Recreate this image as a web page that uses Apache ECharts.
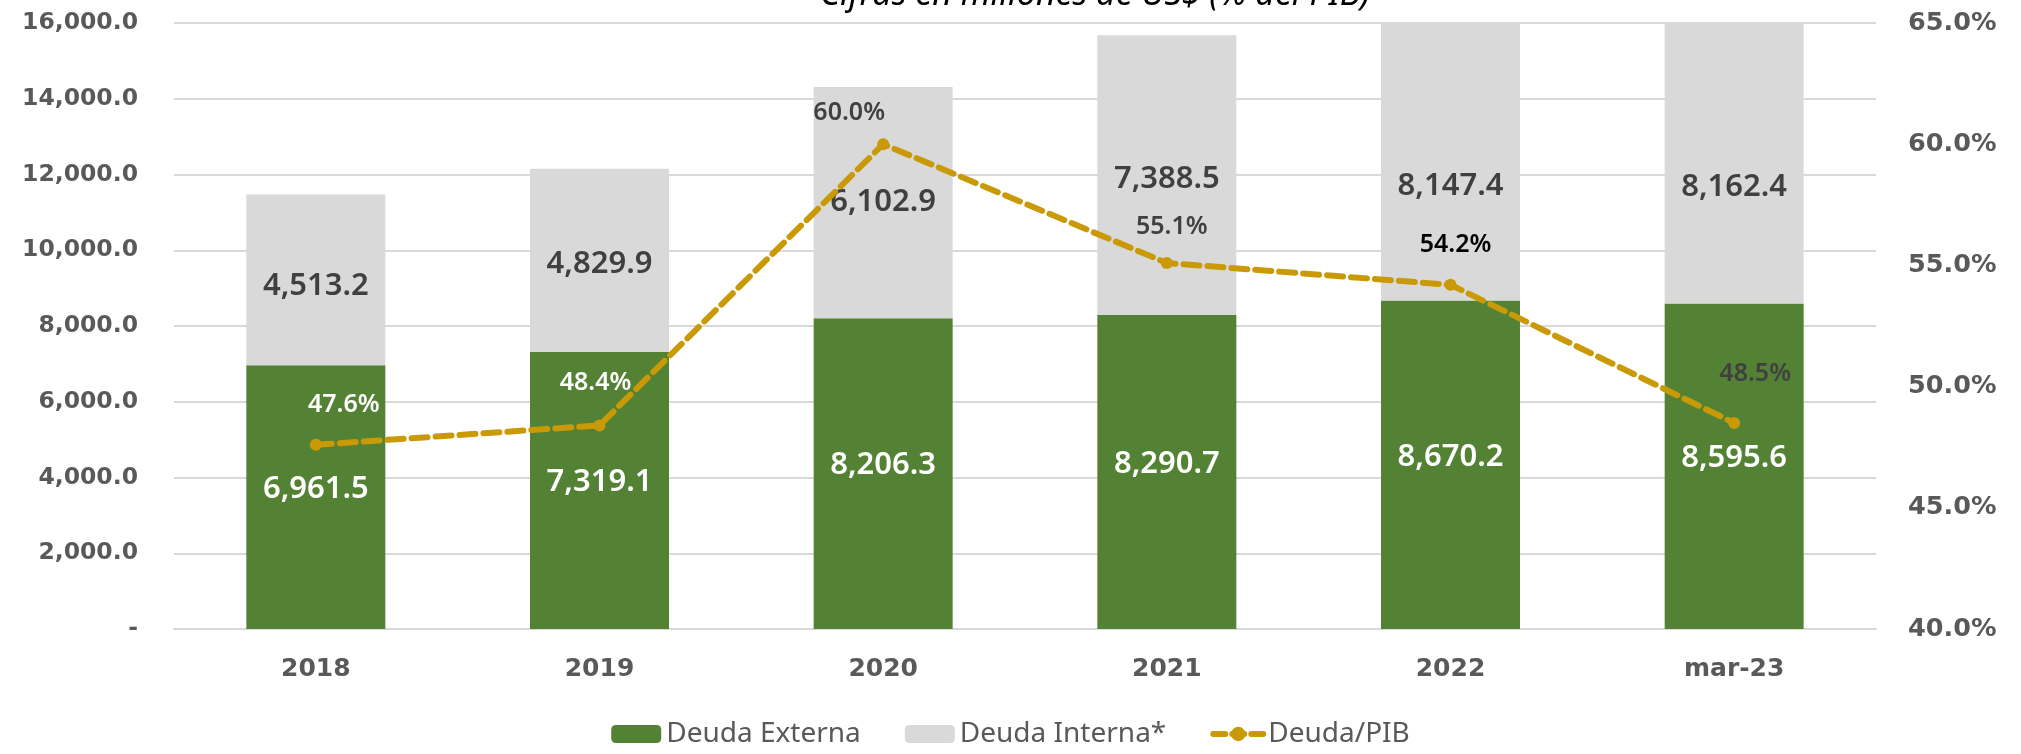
<!DOCTYPE html>
<html>
<head>
<meta charset="utf-8">
<script src="https://cdn.jsdelivr.net/npm/echarts@6/dist/echarts.min.js"></script>
<style>
  html, body { margin: 0; padding: 0; background: #fff; }
  #chart { width: 2021px; height: 754px; }
</style>
</head>
<body>
<div id="chart"></div>
<script>
const categories = ['2018', '2019', '2020', '2021', '2022', 'mar-23']
const deudaExterna = [6961.5, 7319.1, 8206.3, 8290.7, 8670.2, 8595.6]
const deudaInterna = [4513.2, 4829.9, 6102.9, 7388.5, 8147.4, 8162.4]
const deudaPib = [47.6, 48.4, 60.0, 55.1, 54.2, 48.5]
const leftTicks = [0, 2000, 4000, 6000, 8000, 10000, 12000, 14000, 16000]
const rightTicks = [40, 45, 50, 55, 60, 65]

// label tweaks to sit where the original has them
const pibOffsets = [[28, -40], [-4, -43], [-34, -31], [5, -36], [5, -40], [21, -49]]
const pibColors = ['#fff', '#fff', '#404040', '#404040', '#000', '#404040']
const internaOffsets = [[0, 6], [0, 4], [0, 0], [0, 4], [0, 24], [0, 24]]

const fmt = v => v.toLocaleString('en-US', {minimumFractionDigits: 1, maximumFractionDigits: 1})
const axisFont = {fontFamily: 'DejaVu Sans', fontWeight: 'bold', color: '#595959'}

let myChart = echarts.init(document.getElementById('chart'))
myChart.setOption({
  animation: false,
  title: {
    text: 'Cifras en millones de US$ (% del PIB)',
    left: 1090,
    textAlign: 'center',
    top: -27,
    textStyle: {fontFamily: 'Noto Sans', fontStyle: 'italic', fontWeight: 'normal', fontSize: 34, color: '#000'}
  },
  grid: {left: 174, right: 145, top: 23, bottom: 125},
  legend: {
    bottom: 1,
    left: 'center',
    itemWidth: 50,
    itemHeight: 18,
    itemGap: 44,
    textStyle: {fontFamily: 'Noto Sans', fontSize: 28, color: '#595959'},
    data: [
      {name: 'Deuda Externa'},
      {name: 'Deuda Interna*'},
      {name: 'Deuda/PIB', lineStyle: {width: 6, type: [12, 7]}}
    ]
  },
  xAxis: {
    type: 'category',
    data: categories,
    axisTick: {show: false},
    axisLine: {lineStyle: {color: '#D9D9D9', width: 2}},
    axisLabel: Object.assign({margin: 28, fontSize: 25}, axisFont)
  },
  yAxis: [{
    type: 'value',
    min: leftTicks[0],
    max: leftTicks[leftTicks.length - 1],
    interval: leftTicks[1] - leftTicks[0],
    splitLine: {lineStyle: {color: '#D9D9D9', width: 2}},
    axisLabel: Object.assign({margin: 36, fontSize: 23.5, formatter: v => v === 0 ? '-' : fmt(v)}, axisFont)
  }, {
    type: 'value',
    min: rightTicks[0],
    max: rightTicks[rightTicks.length - 1],
    interval: rightTicks[1] - rightTicks[0],
    splitLine: {show: false},
    axisLabel: Object.assign({margin: 32, fontSize: 25.5, formatter: v => v.toFixed(1) + '%'}, axisFont)
  }],
  series: [{
    name: 'Deuda Externa',
    type: 'bar',
    stack: 'deuda',
    barWidth: '49%',
    itemStyle: {color: '#548235'},
    label: {
      show: true, position: 'inside', offset: [0, -8], formatter: p => fmt(p.value),
      fontFamily: 'Noto Sans', fontWeight: 600, fontSize: 31, color: '#fff'
    },
    data: deudaExterna
  }, {
    name: 'Deuda Interna*',
    type: 'bar',
    stack: 'deuda',
    itemStyle: {color: '#D9D9D9'},
    label: {
      show: true, position: 'inside', formatter: p => fmt(p.value),
      fontFamily: 'Noto Sans', fontWeight: 600, fontSize: 31, color: '#404040'
    },
    data: deudaInterna.map((v, i) => ({value: v, label: {offset: internaOffsets[i]}}))
  }, {
    name: 'Deuda/PIB',
    type: 'line',
    yAxisIndex: 1,
    symbol: 'circle',
    symbolSize: 12,
    lineStyle: {color: '#C99A06', width: 6, type: [16, 8], cap: 'round'},
    itemStyle: {color: '#C99A06'},
    label: {
      show: true, position: 'inside', formatter: p => p.value.toFixed(1) + '%',
      fontFamily: 'Noto Sans', fontWeight: 600, fontSize: 25
    },
    data: deudaPib.map((v, i) => ({value: v, label: {offset: pibOffsets[i], color: pibColors[i]}}))
  }]
})
</script>
</body>
</html>
